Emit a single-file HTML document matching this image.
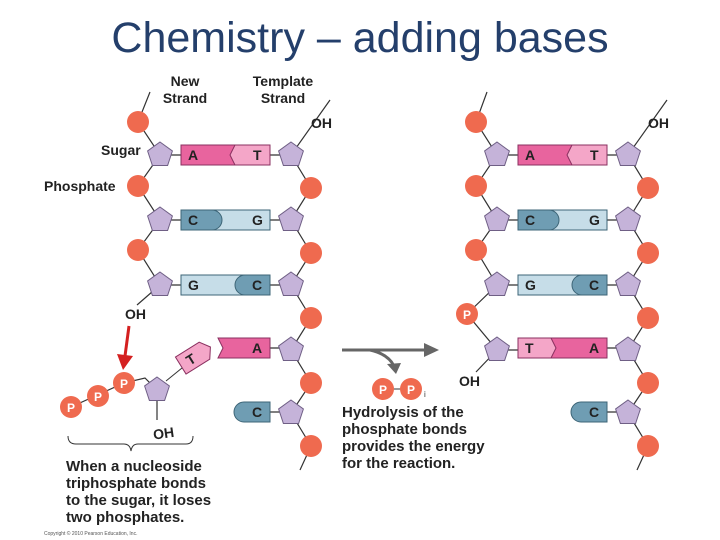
<!DOCTYPE html>
<html><head><meta charset="utf-8"><style>
html,body{margin:0;padding:0;background:#fff}
svg{display:block}
text{font-family:"Liberation Sans",Arial,sans-serif}
.b{font-weight:bold;font-size:14px;fill:#222}
.c{font-weight:bold;font-size:15px;fill:#222}
.l{font-weight:bold;font-size:14px;fill:#222}
</style></head><body>
<svg width="720" height="540" viewBox="0 0 720 540" xmlns="http://www.w3.org/2000/svg">
<defs>
<polygon id="s" points="0,-13 12.4,-4 7.6,10.5 -7.6,10.5 -12.4,-4" fill="#c5b3d9" stroke="#6f5f85" stroke-width="1"/>
<circle id="p" r="11" fill="#ef6a4f"/>
</defs>
<text x="360" y="52" text-anchor="middle" font-size="43" fill="#243f6b">Chemistry – adding bases</text>

<g stroke="#333" stroke-width="1.2" fill="none">
<path d="M150,92 L138,122 L160,155 L138,186 L160,220 L138,250 L160,285 L137,305"/>
<path d="M330,100 L291,155 L311,188 L291,220 L311,253 L291,285 L311,318 L291,350 L311,383 L291,413 L311,446 L300,470"/>
<path d="M487,92 L476,122 L497,155 L476,186 L497,220 L476,250 L497,285 L467,314 L497,350 L476,372"/>
<path d="M667,100 L628,155 L648,188 L628,220 L648,253 L628,285 L648,318 L628,350 L648,383 L628,413 L648,446 L637,470"/>
<path d="M71,407 L124,383 L145,378 L157,390 L157,420"/>
<path d="M160,155 L181,155 M270,155 L291,155 M160,220 L181,220 M270,220 L291,220 M160,285 L181,285 M270,285 L291,285 M270,348 L291,348 M270,412 L291,412"/>
<path d="M497,155 L518,155 M607,155 L628,155 M497,220 L518,220 M607,220 L628,220 M497,285 L518,285 M607,285 L628,285 M497,350 L518,350 M607,348 L628,348 M607,412 L628,412"/>
</g>

<use href="#p" x="138" y="122"/><use href="#p" x="138" y="186"/><use href="#p" x="138" y="250"/>
<use href="#s" x="160" y="155"/><use href="#s" x="160" y="220"/><use href="#s" x="160" y="285"/>
<use href="#p" x="311" y="188"/><use href="#p" x="311" y="253"/><use href="#p" x="311" y="318"/><use href="#p" x="311" y="383"/><use href="#p" x="311" y="446"/>
<use href="#s" x="291" y="155"/><use href="#s" x="291" y="220"/><use href="#s" x="291" y="285"/><use href="#s" x="291" y="350"/><use href="#s" x="291" y="413"/>
<use href="#p" x="476" y="122"/><use href="#p" x="476" y="186"/><use href="#p" x="476" y="250"/>
<use href="#s" x="497" y="155"/><use href="#s" x="497" y="220"/><use href="#s" x="497" y="285"/><use href="#s" x="497" y="350"/>
<use href="#p" x="648" y="188"/><use href="#p" x="648" y="253"/><use href="#p" x="648" y="318"/><use href="#p" x="648" y="383"/><use href="#p" x="648" y="446"/>
<use href="#s" x="628" y="155"/><use href="#s" x="628" y="220"/><use href="#s" x="628" y="285"/><use href="#s" x="628" y="350"/><use href="#s" x="628" y="413"/>

<g stroke="#8a3060" stroke-width="1">
<rect x="181" y="145" width="89" height="20" fill="#f4a6c8"/>
<path d="M181,145 H235 L230,155 L235,165 H181Z" fill="#e8649e"/>
</g>
<g stroke="#3d6577" stroke-width="1">
<rect x="181" y="210" width="89" height="20" fill="#c6dde8"/>
<path d="M181,210 H212 A10,10 0 0 1 212,230 H181Z" fill="#6f9db3"/>
<rect x="181" y="275" width="89" height="20" fill="#c6dde8"/>
<path d="M270,275 H245 A10,10 0 0 0 245,295 H270Z" fill="#6f9db3"/>
<path d="M270,402 H244 A10,10 0 0 0 244,422 H270Z" fill="#6f9db3"/>
</g>
<path d="M218,338 H270 V358 H218 L223,348Z" fill="#e8649e" stroke="#8a3060"/>
<g transform="translate(196,356) rotate(-32)">
<path d="M-18,-10 H10 L17,0 L10,10 H-18Z" fill="#f4a6c8" stroke="#8a3060"/>
<text class="l" x="-6" y="5" text-anchor="middle" font-size="13">T</text>
</g>
<g stroke="#8a3060" stroke-width="1">
<rect x="518" y="145" width="89" height="20" fill="#f4a6c8"/>
<path d="M518,145 H572 L567,155 L572,165 H518Z" fill="#e8649e"/>
<rect x="518" y="338" width="89" height="20" fill="#e8649e"/>
<path d="M518,338 H551 L556,348 L551,358 H518Z" fill="#f4a6c8"/>
</g>
<g stroke="#3d6577" stroke-width="1">
<rect x="518" y="210" width="89" height="20" fill="#c6dde8"/>
<path d="M518,210 H549 A10,10 0 0 1 549,230 H518Z" fill="#6f9db3"/>
<rect x="518" y="275" width="89" height="20" fill="#c6dde8"/>
<path d="M607,275 H582 A10,10 0 0 0 582,295 H607Z" fill="#6f9db3"/>
<path d="M607,402 H581 A10,10 0 0 0 581,422 H607Z" fill="#6f9db3"/>
</g>
<g>
<text class="l" x="188" y="160">A</text><text class="l" x="253" y="160">T</text>
<text class="l" x="188" y="225">C</text><text class="l" x="252" y="225">G</text>
<text class="l" x="188" y="290">G</text><text class="l" x="252" y="290">C</text>
<text class="l" x="252" y="353">A</text><text class="l" x="252" y="417">C</text>
<text class="l" x="525" y="160">A</text><text class="l" x="590" y="160">T</text>
<text class="l" x="525" y="225">C</text><text class="l" x="589" y="225">G</text>
<text class="l" x="525" y="290">G</text><text class="l" x="589" y="290">C</text>
<text class="l" x="525" y="353">T</text><text class="l" x="589" y="353">A</text>
<text class="l" x="589" y="417">C</text>
</g>
<use href="#s" x="157" y="390"/>
<line x1="166" y1="381" x2="182" y2="368" stroke="#333"/>
<g fill="#ef6a4f"><circle cx="71" cy="407" r="11"/><circle cx="98" cy="396" r="11"/><circle cx="124" cy="383" r="11"/></g>
<g fill="#fff" font-weight="bold" font-size="12" text-anchor="middle">
<text x="71" y="412">P</text><text x="98" y="401">P</text><text x="124" y="388">P</text>
</g>
<line x1="129" y1="326" x2="125" y2="356" stroke="#d42020" stroke-width="3"/>
<polygon points="117,354 133,356 123,370" fill="#d42020"/>
<path d="M68,436 Q68,444 76,444 L124,444 Q130,444 131,451 Q132,444 138,444 L186,444 Q193,444 193,436" fill="none" stroke="#333" stroke-width="1"/>
<circle cx="467" cy="314" r="11" fill="#ef6a4f"/>
<text x="467" y="319" fill="#fff" font-weight="bold" font-size="12" text-anchor="middle">P</text>
<line x1="342" y1="350" x2="425" y2="350" stroke="#666" stroke-width="3"/>
<polygon points="424,343 439,350 424,357" fill="#666"/>
<path d="M370,350 Q388,354 394,366" fill="none" stroke="#666" stroke-width="3"/>
<polygon points="387,364 401,363 396,374" fill="#666"/>
<line x1="383" y1="389" x2="411" y2="389" stroke="#333"/>
<circle cx="383" cy="389" r="11" fill="#ef6a4f"/><circle cx="411" cy="389" r="11" fill="#ef6a4f"/>
<g fill="#fff" font-weight="bold" font-size="12" text-anchor="middle"><text x="383" y="394">P</text><text x="411" y="394">P</text></g>
<text x="424" y="397" font-size="8" fill="#333">i</text>

<g class="b">
<text x="185" y="86" text-anchor="middle">New</text><text x="185" y="103" text-anchor="middle">Strand</text>
<text x="283" y="86" text-anchor="middle">Template</text><text x="283" y="103" text-anchor="middle">Strand</text>
<text x="311" y="128">OH</text><text x="648" y="128">OH</text>
<text x="101" y="155">Sugar</text><text x="44" y="191">Phosphate</text>
<text x="125" y="319">OH</text><text x="459" y="386">OH</text>
<text x="153" y="438" transform="rotate(-8 165 433)">OH</text>
</g>
<g class="c">
<text x="66" y="471">When a nucleoside</text>
<text x="66" y="488">triphosphate bonds</text>
<text x="66" y="505">to the sugar, it loses</text>
<text x="66" y="522">two phosphates.</text>
<text x="342" y="417">Hydrolysis of the</text>
<text x="342" y="434">phosphate bonds</text>
<text x="342" y="451">provides the energy</text>
<text x="342" y="468">for the reaction.</text>
</g>
<text x="44" y="535" font-size="5" fill="#555">Copyright © 2010 Pearson Education, Inc.</text>
</svg>
</body></html>
